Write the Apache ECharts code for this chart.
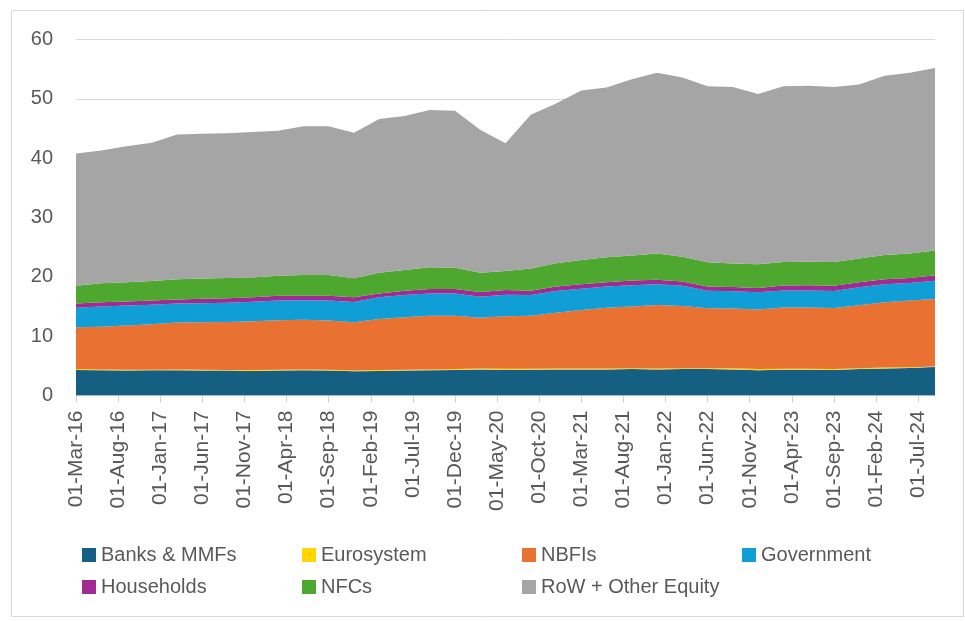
<!DOCTYPE html>
<html>
<head>
<meta charset="utf-8">
<script src="https://cdn.jsdelivr.net/npm/echarts@6/dist/echarts.min.js"></script>
<style>
  html, body { margin: 0; padding: 0; background: #fff; }
  #chart { width: 965px; height: 621px; }
</style>
</head>
<body>
<div id="chart"></div>
<script>
// quarter ends, as year-month
const quarters = [
  '2016-03','2016-06','2016-09','2016-12','2017-03','2017-06','2017-09','2017-12',
  '2018-03','2018-06','2018-09','2018-12','2019-03','2019-06','2019-09','2019-12',
  '2020-03','2020-06','2020-09','2020-12','2021-03','2021-06','2021-09','2021-12',
  '2022-03','2022-06','2022-09','2022-12','2023-03','2023-06','2023-09','2023-12',
  '2024-03','2024-06','2024-09'
];

const tickLabels = [
  '01-Mar-16','01-Aug-16','01-Jan-17','01-Jun-17','01-Nov-17','01-Apr-18','01-Sep-18',
  '01-Feb-19','01-Jul-19','01-Dec-19','01-May-20','01-Oct-20','01-Mar-21','01-Aug-21',
  '01-Jan-22','01-Jun-22','01-Nov-22','01-Apr-23','01-Sep-23','01-Feb-24','01-Jul-24'
];

const banks = [4.3,4.25,4.2,4.25,4.25,4.2,4.2,4.15,4.2,4.25,4.2,4.1,4.15,4.2,4.25,4.3,
  4.4,4.3,4.35,4.4,4.4,4.4,4.45,4.4,4.45,4.45,4.4,4.25,4.35,4.35,4.3,4.45,4.55,4.65,4.8];
const eurosystem = [0.15,0.15,0.15,0.1,0.15,0.15,0.1,0.15,0.15,0.15,0.15,0.1,0.15,0.15,0.15,0.15,
  0.15,0.2,0.15,0.15,0.15,0.15,0.15,0.15,0.15,0.15,0.2,0.2,0.15,0.15,0.15,0.15,0.15,0.1,0.1];
const nbfis = [7.05,7.2,7.45,7.65,7.9,8.0,8.1,8.2,8.35,8.35,8.3,8.15,8.6,8.85,9.05,9.0,
  8.55,8.85,8.95,9.4,9.85,10.25,10.4,10.7,10.5,10.1,10.05,10.05,10.35,10.35,10.3,10.6,11.0,11.25,11.35];
const government = [3.3,3.4,3.35,3.3,3.2,3.2,3.25,3.3,3.3,3.3,3.35,3.4,3.65,3.75,3.75,3.75,
  3.55,3.65,3.5,3.65,3.6,3.55,3.6,3.5,3.4,2.95,2.9,2.9,2.85,2.85,2.85,3.05,3.05,2.95,3.1];
const households = [0.7,0.7,0.7,0.7,0.7,0.75,0.75,0.75,0.8,0.75,0.8,0.8,0.65,0.7,0.75,0.75,
  0.8,0.8,0.7,0.75,0.75,0.75,0.8,0.75,0.7,0.7,0.75,0.7,0.85,0.9,0.9,0.85,0.85,0.85,0.9];
const nfcs = [3.0,3.2,3.25,3.3,3.4,3.4,3.4,3.35,3.4,3.5,3.5,3.2,3.5,3.5,3.65,3.6,
  3.25,3.2,3.75,3.95,4.1,4.2,4.2,4.45,4.2,4.1,3.95,4.0,3.95,3.95,4.0,4.0,4.1,4.15,4.2];
const rowOther = [22.3,22.4,22.9,23.3,24.4,24.4,24.4,24.5,24.4,25.1,25.1,24.55,25.9,25.95,26.5,26.45,
  24.1,21.5,25.9,26.9,28.55,28.6,29.7,30.45,30.2,29.65,29.75,28.7,29.6,29.65,29.5,29.3,30.2,30.45,30.75];

const seriesNames = ['Banks & MMFs','Eurosystem','NBFIs','Government','Households','NFCs','RoW + Other Equity'];
const seriesValues = [banks, eurosystem, nbfis, government, households, nfcs, rowOther];
const colors = ['#156082','#FFD600','#E97132','#0F9ED5','#A02B93','#4EA72E','#A5A5A5'];

// months since Mar-2016, used as x position (Excel date axis in months)
function monthIndex(s) {
  const y = +s.slice(0, 4), m = +s.slice(5, 7);
  return (y - 2016) * 12 + (m - 3);
}
const xs = quarters.map(monthIndex);
const tickValues = tickLabels.map((_, i) => i * 5);

let myChart = echarts.init(document.getElementById('chart'));

let option = {
  backgroundColor: '#fff',
  animation: false,
  color: colors,
  graphic: [{
    type: 'rect',
    shape: { x: 11.5, y: 10.5, width: 952, height: 606 },
    style: { fill: 'none', stroke: '#D9D9D9', lineWidth: 1 },
    silent: true
  }],
  grid: { left: 76, right: 30, top: 39.5, bottom: 225.5 },
  xAxis: {
    type: 'value',
    min: 0,
    max: 102,
    interval: 5,
    axisLine: { show: true, lineStyle: { color: '#D9D9D9', width: 1 } },
    axisTick: { show: true, length: 7, customValues: tickValues, lineStyle: { color: '#D0D0D0' } },
    splitLine: { show: false },
    axisLabel: {
      customValues: tickValues,
      rotate: 90,
      margin: 15,
      color: '#595959',
      fontSize: 21,
      fontFamily: 'Liberation Sans, Arial, sans-serif',
      formatter: function (v) { return tickLabels[Math.round(v / 5)] || ''; }
    }
  },
  yAxis: {
    type: 'value',
    min: 0,
    max: 60,
    interval: 10,
    axisLine: { show: false },
    axisTick: { show: false },
    splitLine: { lineStyle: { color: '#D9D9D9', width: 1 } },
    axisLabel: {
      margin: 23,
      color: '#595959',
      fontSize: 20,
      fontFamily: 'Liberation Sans, Arial, sans-serif'
    }
  },
  legend: {
    left: 77,
    top: 539,
    width: 880,
    itemWidth: 14,
    itemHeight: 14,
    itemGap: 10,
    icon: 'rect',
    data: seriesNames,
    textStyle: {
      color: '#595959',
      fontSize: 20,
      lineHeight: 22,
      width: 191,
      fontFamily: 'Liberation Sans, Arial, sans-serif'
    }
  },
  // value goes in column 0 so the stack runs on y, month index in column 1
  series: seriesNames.map((name, k) => ({
    name: name,
    type: 'line',
    stack: 'Total',
    showSymbol: false,
    symbol: 'none',
    lineStyle: { width: 0 },
    areaStyle: { color: colors[k], opacity: 1 },
    itemStyle: { color: colors[k] },
    encode: { x: 1, y: 0 },
    data: xs.map((x, i) => [seriesValues[k][i], x])
  }))
};

myChart.setOption(option);
</script>
</body>
</html>
